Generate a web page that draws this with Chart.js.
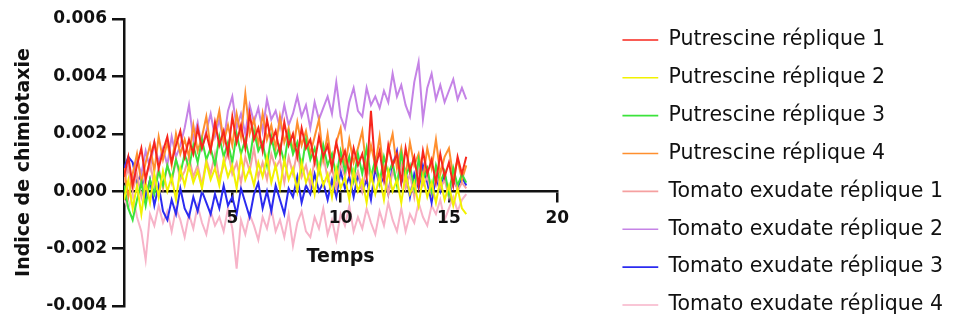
<!DOCTYPE html>
<html>
<head>
<meta charset="utf-8">
<script src="https://cdn.jsdelivr.net/npm/chart.js@4.4.1/dist/chart.umd.min.js"></script>
<style>
  html, body { margin: 0; padding: 0; background: #fff; }
  #wrap { width: 957px; height: 324px; }
</style>
</head>
<body>
<div id="wrap"><canvas id="chimioChart"></canvas></div>
<script>
const temps = [0, 0.2, 0.4, 0.6, 0.8, 1, 1.2, 1.4, 1.6, 1.8,
	2, 2.2, 2.4, 2.6, 2.8, 3, 3.2, 3.4, 3.6, 3.8,
	4, 4.2, 4.4, 4.6, 4.8, 5, 5.2, 5.4, 5.6, 5.8,
	6, 6.2, 6.4, 6.6, 6.8, 7, 7.2, 7.4, 7.6, 7.8,
	8, 8.2, 8.4, 8.6, 8.8, 9, 9.2, 9.4, 9.6, 9.8,
	10, 10.2, 10.4, 10.6, 10.8, 11, 11.2, 11.4, 11.6, 11.8,
	12, 12.2, 12.4, 12.6, 12.8, 13, 13.2, 13.4, 13.6, 13.8,
	14, 14.2, 14.4, 14.6, 14.8, 15, 15.2, 15.4, 15.6, 15.8];

const putrescine1 = [0.0005, 0.0012, 0.0002, 0.0009, 0.0015, 0.0004, 0.0011, 0.0017, 0.0008, 0.0014,
	0.0019, 0.0010, 0.0016, 0.0021, 0.0012, 0.0018, 0.0013, 0.0022, 0.0015, 0.0020,
	0.0014, 0.0024, 0.0016, 0.0021, 0.0013, 0.0026, 0.0017, 0.0023, 0.0015, 0.0027,
	0.0018, 0.0022, 0.0014, 0.0025, 0.0017, 0.0021, 0.0013, 0.0024, 0.0016, 0.0020,
	0.0012, 0.0022, 0.0015, 0.0018, 0.0010, 0.0019, 0.0012, 0.0016, 0.0008, 0.0017,
	0.0010, 0.0014, 0.0006, 0.0015, 0.0009, 0.0013, 0.0005, 0.0028, 0.0008, 0.0014,
	0.0004, 0.0016, 0.0009, 0.0013, 0.0003, 0.0015, 0.0007, 0.0012, 0.0002, 0.0014,
	0.0006, 0.0011, 0.0003, 0.0013, 0.0005, 0.0010, 0.0002, 0.0012, 0.0006, 0.0012];

const putrescine2 = [-0.0003, 0.0004, -0.0006, 0.0002, -0.0008, 0.0003, -0.0004, 0.0006, -0.0002, 0.0007,
	0.0000, 0.0005, -0.0003, 0.0008, 0.0002, 0.0009, 0.0003, 0.0007, 0.0001, 0.0010,
	0.0004, 0.0008, 0.0002, 0.0011, 0.0005, 0.0009, 0.0001, 0.0012, 0.0004, 0.0008,
	0.0002, 0.0010, 0.0005, 0.0012, 0.0003, 0.0009, 0.0001, 0.0011, 0.0004, 0.0008,
	0.0000, 0.0010, 0.0003, 0.0007, -0.0001, 0.0009, 0.0002, 0.0006, -0.0002, 0.0008,
	0.0001, 0.0005, -0.0003, 0.0007, 0.0000, 0.0004, -0.0004, 0.0006, -0.0001, 0.0005,
	-0.0003, 0.0007, 0.0000, 0.0004, -0.0004, 0.0006, -0.0001, 0.0003, -0.0005, 0.0005,
	-0.0002, 0.0003, -0.0004, 0.0004, -0.0003, 0.0002, -0.0005, 0.0001, -0.0006, -0.0008];

const putrescine3 = [0.0002, -0.0006, -0.0010, -0.0003, 0.0003, -0.0005, 0.0004, -0.0001, 0.0007, 0.0002,
	0.0009, 0.0004, 0.0011, 0.0006, 0.0013, 0.0008, 0.0016, 0.0010, 0.0018, 0.0011,
	0.0015, 0.0009, 0.0019, 0.0012, 0.0017, 0.0010, 0.0020, 0.0013, 0.0018, 0.0011,
	0.0021, 0.0014, 0.0017, 0.0009, 0.0019, 0.0012, 0.0016, 0.0010, 0.0020, 0.0013,
	0.0017, 0.0008, 0.0018, 0.0011, 0.0015, 0.0007, 0.0016, 0.0009, 0.0013, 0.0005,
	0.0014, 0.0007, 0.0012, 0.0004, 0.0013, 0.0006, 0.0015, 0.0005, 0.0011, 0.0003,
	0.0012, 0.0006, 0.0010, 0.0002, 0.0013, 0.0005, 0.0009, 0.0001, 0.0011, 0.0004,
	0.0008, 0.0000, 0.0009, 0.0003, 0.0007, -0.0001, 0.0008, 0.0002, 0.0006, 0.0003];

const putrescine4 = [0.0008, -0.0002, 0.0006, 0.0013, 0.0003, 0.0010, 0.0016, 0.0007, 0.0019, 0.0011,
	0.0017, 0.0009, 0.0020, 0.0013, 0.0018, 0.0012, 0.0023, 0.0014, 0.0019, 0.0026,
	0.0015, 0.0021, 0.0028, 0.0017, 0.0023, 0.0016, 0.0027, 0.0019, 0.0034, 0.0020,
	0.0025, 0.0016, 0.0027, 0.0018, 0.0023, 0.0015, 0.0026, 0.0017, 0.0022, 0.0014,
	0.0024, 0.0016, 0.0021, 0.0013, 0.0019, 0.0025, 0.0011, 0.0020, 0.0009, 0.0017,
	0.0022, 0.0008, 0.0018, 0.0010, 0.0015, 0.0021, 0.0007, 0.0016, 0.0009, 0.0019,
	0.0006, 0.0014, 0.0020, 0.0008, 0.0015, 0.0005, 0.0017, 0.0009, 0.0013, 0.0004,
	0.0015, 0.0008, 0.0018, 0.0006, 0.0012, 0.0015, 0.0005, 0.0011, 0.0004, 0.0009];

const tomate1 = [0.0003, 0.0008, 0.0000, 0.0006, -0.0002, 0.0005, 0.0010, 0.0002, 0.0008, 0.0001,
	0.0009, 0.0003, 0.0011, 0.0004, 0.0007, 0.0012, 0.0005, 0.0009, 0.0002, 0.0011,
	0.0006, 0.0013, 0.0004, 0.0009, 0.0014, 0.0006, 0.0010, 0.0003, 0.0012, 0.0007,
	0.0015, 0.0005, 0.0010, 0.0004, 0.0013, 0.0008, 0.0011, 0.0003, 0.0012, 0.0006,
	0.0014, 0.0005, 0.0009, 0.0002, 0.0011, 0.0006, 0.0013, 0.0004, 0.0008, 0.0001,
	0.0010, 0.0005, 0.0012, 0.0003, 0.0007, 0.0000, 0.0009, 0.0004, 0.0010, 0.0002,
	0.0008, -0.0001, 0.0007, 0.0003, 0.0009, 0.0001, 0.0006, -0.0002, 0.0008, 0.0002,
	0.0005, -0.0001, 0.0007, 0.0001, 0.0004, -0.0002, 0.0006, 0.0000, 0.0003, 0.0001];

const tomate2 = [0.0004, 0.0009, 0.0002, 0.0011, 0.0006, 0.0014, 0.0008, 0.0017, 0.0010, 0.0015,
	0.0009, 0.0019, 0.0012, 0.0016, 0.0022, 0.0030, 0.0018, 0.0024, 0.0015, 0.0021,
	0.0027, 0.0019, 0.0025, 0.0017, 0.0028, 0.0033, 0.0022, 0.0027, 0.0020, 0.0030,
	0.0024, 0.0029, 0.0021, 0.0032, 0.0025, 0.0028, 0.0022, 0.0030, 0.0023, 0.0027,
	0.0033, 0.0026, 0.0030, 0.0022, 0.0031, 0.0025, 0.0029, 0.0033, 0.0027, 0.0038,
	0.0026, 0.0022, 0.0031, 0.0036, 0.0028, 0.0026, 0.0036, 0.0030, 0.0033, 0.0029,
	0.0035, 0.0031, 0.0041, 0.0033, 0.0037, 0.0030, 0.0026, 0.0038, 0.0045, 0.0025,
	0.0036, 0.0041, 0.0032, 0.0037, 0.0031, 0.0035, 0.0039, 0.0032, 0.0036, 0.0032];

const tomate3 = [0.0008, 0.0012, 0.0010, 0.0003, 0.0006, -0.0002, 0.0004, -0.0005, 0.0002, -0.0007,
	-0.0010, -0.0003, -0.0008, 0.0001, -0.0006, -0.0009, -0.0002, -0.0007, 0.0000, -0.0004,
	-0.0008, -0.0001, -0.0006, 0.0002, -0.0005, -0.0002, -0.0008, 0.0001, -0.0004, -0.0009,
	-0.0001, 0.0003, -0.0006, 0.0000, -0.0007, 0.0002, -0.0003, -0.0008, 0.0001, -0.0002,
	0.0005, -0.0004, 0.0002, -0.0001, 0.0006, 0.0000, 0.0003, -0.0003, 0.0004, -0.0002,
	0.0007, 0.0001, 0.0005, -0.0002, 0.0006, 0.0000, 0.0004, -0.0003, 0.0008, 0.0002,
	0.0005, -0.0001, 0.0009, 0.0014, 0.0003, 0.0007, -0.0002, 0.0006, 0.0001, 0.0009,
	0.0003, -0.0004, 0.0005, 0.0000, 0.0006, -0.0002, 0.0004, 0.0001, 0.0005, 0.0002];

const tomate4 = [-0.0003, -0.0006, -0.0001, -0.0009, -0.0014, -0.0024, -0.0008, -0.0012, -0.0005, -0.0011,
	-0.0007, -0.0014, -0.0006, -0.0010, -0.0016, -0.0008, -0.0013, -0.0005, -0.0011, -0.0015,
	-0.0007, -0.0012, -0.0009, -0.0014, -0.0006, -0.0013, -0.0027, -0.0010, -0.0015, -0.0008,
	-0.0012, -0.0017, -0.0009, -0.0013, -0.0006, -0.0014, -0.0010, -0.0016, -0.0008, -0.0019,
	-0.0011, -0.0007, -0.0014, -0.0016, -0.0009, -0.0013, -0.0006, -0.0015, -0.0010, -0.0017,
	-0.0008, -0.0012, -0.0005, -0.0014, -0.0009, -0.0013, -0.0006, -0.0011, -0.0015, -0.0007,
	-0.0012, -0.0004, -0.0010, -0.0014, -0.0006, -0.0014, -0.0008, -0.0011, -0.0004, -0.0009,
	-0.0012, -0.0005, -0.0008, -0.0003, -0.0010, -0.0006, -0.0002, -0.0007, -0.0003, -0.0001];

const seriesNames = ['Putrescine réplique 1', 'Putrescine réplique 2', 'Putrescine réplique 3', 'Putrescine réplique 4',
	'Tomato exudate réplique 1', 'Tomato exudate réplique 2', 'Tomato exudate réplique 3', 'Tomato exudate réplique 4'];
const seriesValues = [putrescine1, putrescine2, putrescine3, putrescine4, tomate1, tomate2, tomate3, tomate4];
const seriesColors = ['#f7261c', '#f2f200', '#3be33b', '#ff8f2e', '#f5a0a0', '#c583e6', '#2b2bf0', '#f7b3c8'];

const yTicks = [-0.004, -0.002, 0, 0.002, 0.004, 0.006];
const xTicks = [5, 10, 15, 20];

const FONT = 'DejaVu Sans';

const ctx = document.getElementById('chimioChart').getContext('2d');
const chimioChart = new Chart(ctx, {
	type: 'line',
	data: {
		labels: temps,
		datasets: seriesValues.map((vals, i) => ({
			label: seriesNames[i],
			data: vals,
			borderColor: seriesColors[i],
			backgroundColor: seriesColors[i],
			borderWidth: 2,
			pointRadius: 0,
			tension: 0
		}))
	},
	options: {
		responsive: true,
		maintainAspectRatio: false,
		animation: false,
		layout: { padding: { left: 0, right: 4, top: 0, bottom: -8.6 } },
		plugins: {
			tooltip: { enabled: false },
			legend: {
				position: 'right',
				align: 'end',
				maxWidth: 400,
				labels: {
					usePointStyle: true,
					pointStyle: 'line',
					pointStyleWidth: 36,
					padding: 0,
					color: '#111',
					font: { family: FONT, size: 20.5, lineHeight: 1.847 },
					generateLabels: function(chart) {
						const items = Chart.defaults.plugins.legend.labels.generateLabels(chart);
						items.forEach(it => { it.text = [it.text]; it.lineWidth = 1.6; it.pointStyle = 'line'; });
						return items;
					}
				}
			}
		},
		scales: {
			x: {
				type: 'linear',
				min: 0,
				max: 20,
				position: { y: 0 },
				afterBuildTicks: (s) => { s.ticks = [0].concat(xTicks).map(v => ({ value: v })); },
				ticks: {
					z: 1,
					color: '#111',
					padding: 7,
					font: { family: FONT, size: 17, weight: 'bold' },
					callback: (v) => (v === 0 ? '' : v)
				},
				grid: { drawOnChartArea: false, color: '#111', lineWidth: 2.5, tickLength: 10 },
				border: { color: '#111', width: 2.5 },
				title: {
					display: true,
					text: 'Temps',
					color: '#111',
					font: { family: FONT, size: 19, weight: 'bold' },
					padding: { top: 10, bottom: 0 }
				}
			},
			y: {
				min: -0.004,
				max: 0.006,
				afterBuildTicks: (s) => { s.ticks = yTicks.map(v => ({ value: v })); },
				afterFit: (s) => { s.width = 124; },
				ticks: {
					color: '#111',
					padding: 5,
					font: { family: FONT, size: 17, weight: 'bold' },
					callback: (v) => v.toFixed(3)
				},
				grid: { drawOnChartArea: false, color: '#111', lineWidth: 2.5, tickLength: 12 },
				border: { color: '#111', width: 2.5 },
				title: {
					display: true,
					text: 'Indice de chimiotaxie',
					color: '#111',
					font: { family: FONT, size: 19, weight: 'bold' },
					padding: { top: 13, bottom: 0 }
				}
			},
			gapRight: {
				position: 'right',
				display: true,
				ticks: { display: false },
				grid: { display: false },
				border: { display: false },
				afterFit: (s) => { s.width = 65; }
			},
			gapTop: {
				position: 'top',
				display: true,
				ticks: { display: false },
				grid: { display: false },
				border: { display: false },
				afterFit: (s) => { s.height = 19; }
			},
			gapBottom: {
				position: 'bottom',
				display: true,
				ticks: { display: false },
				grid: { display: false },
				border: { display: false },
				afterFit: (s) => { s.height = 26.6; }
			}
		}
	}
});
</script>
</body>
</html>
